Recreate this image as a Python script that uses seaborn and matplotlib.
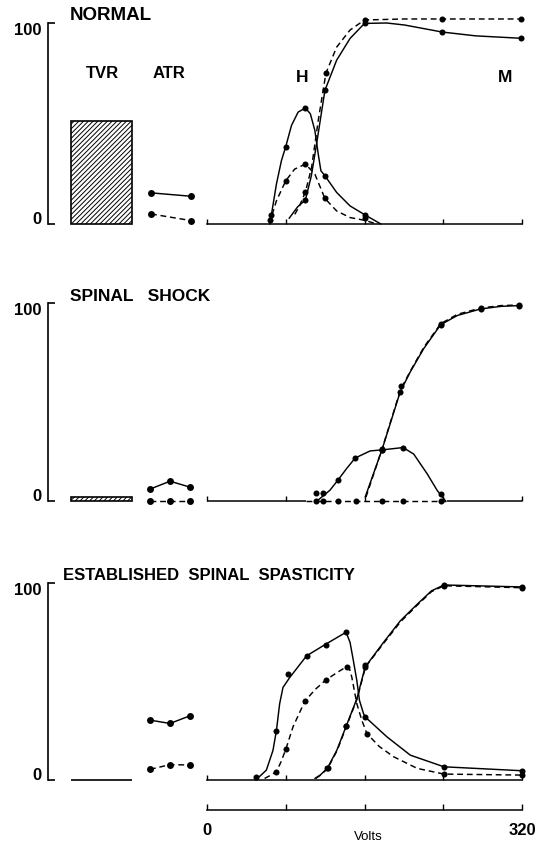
import matplotlib
matplotlib.use("Agg")
import matplotlib.pyplot as plt
import seaborn as sns

# ------------------------------------------------------------------ data
panel_titles = ["NORMAL", "SPINAL   SHOCK", "ESTABLISHED  SPINAL  SPASTICITY"]
volts_ticks = [0, 80, 160, 240, 320]
volts_labels = ["0", "", "", "", "320"]
pct_ticks = [0, 100]
pct_labels = ["0", "100"]

tvr_values = [51, 2, 0]
atr_solid = [[15.5, 13.8], [6, 10, 7], [30.4, 28.7, 32.6]]
atr_dashed = [[5, 1.7], [0, 0, 0], [5.4, 7.8, 7.6]]

# --- NORMAL
n_h_solid_v = [63.7, 65.4, 70.5, 75.6, 80, 85.8, 92.6, 100, 105, 109.6, 113, 115.7, 119.8, 131.7, 145.3, 160.6, 176.6]
n_h_solid_y = [0, 4.5, 19.8, 31.5, 38.5, 49, 55.7, 57.7, 54.8, 46.5, 34.8, 26.5, 24, 15.7, 9, 4.5, 0]
n_h_solid_dot_v = [65.4, 80, 100, 119.8, 160.6]
n_h_solid_dot_y = [4.5, 38.5, 57.7, 24, 4.5]
n_h_dash_v = [63.7, 64.4, 70.5, 80, 89, 100, 109.6, 119.8, 131.7, 145.3, 160.6, 172.5]
n_h_dash_y = [0, 1.8, 11.5, 21.5, 27.3, 29.8, 24.8, 12.7, 6.5, 3.2, 1.8, 0]
n_h_dash_dot_v = [64.4, 80, 100, 119.8, 160.6]
n_h_dash_dot_y = [1.8, 21.5, 29.8, 12.7, 2.8]
n_m_solid_v = [83.4, 92, 100, 106, 111.3, 119.8, 131.7, 145.3, 160, 182.6, 200.7, 239, 273, 319]
n_m_solid_y = [2.8, 8.5, 12, 24, 39.8, 66.5, 81.5, 92.3, 99.8, 100, 99, 95.5, 93.6, 92.4]
n_m_solid_dot_v = [100, 119.8, 160, 239, 319]
n_m_solid_dot_y = [12, 66.5, 99.8, 95.5, 92.4]
n_m_dash_v = [89.2, 94, 100, 106.2, 113, 120.8, 131.7, 145.3, 160, 200, 239, 319]
n_m_dash_y = [4.8, 9, 16, 28, 51.5, 75, 88, 96.5, 101.5, 102, 102, 102]
n_m_dash_dot_v = [100, 120.8, 160, 239, 319]
n_m_dash_dot_y = [16, 75, 101.5, 102, 102]

# --- SPINAL SHOCK
s_h_solid_v = [113, 125, 133.4, 142, 150.5, 165.8, 177.7, 199.2, 210, 223.7, 233.9, 242.4]
s_h_solid_y = [0.5, 5.5, 10.8, 16.5, 21.7, 25.3, 25.8, 27, 23.7, 13.7, 5.3, 0]
s_h_solid_dot_v = [110.6, 117.4, 133.4, 150.5, 177.7, 199.2, 238]
s_h_solid_dot_y = [4, 4, 10.8, 21.7, 25.8, 27, 3.7]
s_h_dash_v = [101, 243.3]
s_h_dash_y = [0, 0]
s_h_dash_dot_v = [110.6, 117.4, 133.4, 151.6, 177.7, 199.2, 238]
s_h_dash_dot_y = [0, 0, 0, 0, 0, 0, 0]
s_m_solid_v = [160.7, 177.7, 196.4, 206.6, 220.2, 237.3, 254.3, 278.1, 298.6, 317.3]
s_m_solid_y = [2, 25.8, 55.3, 65.3, 77, 89, 93.7, 97, 98.3, 98.7]
s_m_solid_dot_v = [177.7, 196.4, 237.3, 278.1, 317.3]
s_m_solid_dot_y = [25.8, 55.3, 89, 97, 98.7]
s_m_dash_v = [161.5, 178, 196.8, 207, 220.5, 237.5, 254.5, 278.3, 298.8, 317.3]
s_m_dash_y = [2, 26.5, 56.5, 66, 77.8, 89.6, 94.3, 97.5, 98.7, 99]
s_m_dash_dot_v = [178, 196.8, 237.5, 278.3, 317.3]
s_m_dash_dot_y = [26.5, 58, 89.6, 97.5, 99]

# --- ESTABLISHED SPINAL SPASTICITY
e_h_solid_v = [49.5, 60.3, 67, 70.5, 73.8, 77.2, 84, 101.1, 120.8, 141.3, 145.3, 148.7, 152.2, 154.9, 159, 160.7, 182.8, 206.6, 240.7, 320]
e_h_solid_y = [0, 5, 15, 25, 38.7, 47, 52, 63, 69, 75, 69.9, 60.6, 50.5, 40.4, 33.7, 32, 21.9, 12.6, 6.7, 4.7]
e_h_solid_dot_v = [50, 70.5, 82.4, 101.1, 120.8, 141.3, 160.7, 240.7, 320]
e_h_solid_dot_y = [1.5, 25, 54, 63, 68.7, 74.9, 32, 6.7, 4.7]
e_h_dash_v = [58.5, 65, 70.5, 75, 80, 87.4, 99.4, 110, 120.8, 132, 142, 145, 147.1, 152.2, 157.3, 162.4, 175, 189.6, 213.5, 240.7, 320]
e_h_dash_y = [0.8, 2.5, 4.2, 9, 15.5, 27, 40, 46, 50.8, 54.5, 57.6, 56, 52.2, 38.7, 30.3, 23.6, 17, 11.8, 5.9, 3, 2.5]
e_h_dash_dot_v = [70.5, 80, 99.4, 120.8, 142, 162.4, 240.7, 320]
e_h_dash_dot_y = [4.2, 15.5, 40, 50.8, 57.6, 23.6, 3, 2.5]
e_m_solid_v = [109.6, 115, 122.2, 131.8, 141.3, 152.2, 160.7, 179.4, 196.4, 213.5, 228, 240.7, 320]
e_m_solid_y = [0.8, 2.5, 5.9, 15, 27.2, 41.2, 57.4, 69.9, 80.8, 89.2, 96, 99, 98]
e_m_solid_dot_v = [122.2, 141.3, 160.7, 240.7, 320]
e_m_solid_dot_y = [5.9, 27.2, 57.4, 99, 98]
e_m_dash_v = [110.5, 115.5, 122.6, 132.2, 141.6, 152.5, 161, 179.6, 196.6, 213.7, 228, 240.7, 320]
e_m_dash_y = [0.8, 2.5, 5.9, 15, 27.2, 41.2, 57.4, 69.5, 80.3, 88.8, 95.6, 98.6, 97.6]
e_m_dash_dot_v = [122.6, 141.6, 161, 240.7, 320]
e_m_dash_dot_y = [5.9, 27.2, 58.5, 98.6, 97.6]

# ------------------------------------------------------------------ layout (pixels)
W, H = 553, 846
panel_y0 = [224, 501, 780]
panel_y100 = [23, 303, 583]
left_x0, left_x1 = 48, 200
right_x0, right_x1 = 207, 522
tvr_center, tvr_width = 101, 61
atr_pos3 = [150, 170, 190]
atr_pos2 = [151, 191]

sns.set_style("white")
plt.rcParams["font.family"] = ["Liberation Sans", "DejaVu Sans"]
plt.rcParams["hatch.linewidth"] = 0.7
for k in ["text.color", "axes.labelcolor", "xtick.color", "ytick.color", "axes.edgecolor"]:
    plt.rcParams[k] = "black"

fig = plt.figure(figsize=(W / 100, H / 100), dpi=100)
fig.patch.set_facecolor("white")


def px_axes(x0, x1, ytop, ybot):
    return fig.add_axes([x0 / W, 1 - ybot / H, (x1 - x0) / W, (ybot - ytop) / H])


def ftext(x, y, s, **kw):
    fig.text(x / W, 1 - y / H, s, **kw)


LW = 1.05
DASH = (0, (4, 2.6))
MS = 19

curves = [
    [
        (n_h_solid_v, n_h_solid_y, n_h_solid_dot_v, n_h_solid_dot_y, "-"),
        (n_h_dash_v, n_h_dash_y, n_h_dash_dot_v, n_h_dash_dot_y, DASH),
        (n_m_solid_v, n_m_solid_y, n_m_solid_dot_v, n_m_solid_dot_y, "-"),
        (n_m_dash_v, n_m_dash_y, n_m_dash_dot_v, n_m_dash_dot_y, DASH),
    ],
    [
        (s_h_solid_v, s_h_solid_y, s_h_solid_dot_v, s_h_solid_dot_y, "-"),
        (s_h_dash_v, s_h_dash_y, s_h_dash_dot_v, s_h_dash_dot_y, DASH),
        (s_m_solid_v, s_m_solid_y, s_m_solid_dot_v, s_m_solid_dot_y, "-"),
        (s_m_dash_v, s_m_dash_y, s_m_dash_dot_v, s_m_dash_dot_y, DASH),
    ],
    [
        (e_h_solid_v, e_h_solid_y, e_h_solid_dot_v, e_h_solid_dot_y, "-"),
        (e_h_dash_v, e_h_dash_y, e_h_dash_dot_v, e_h_dash_dot_y, DASH),
        (e_m_solid_v, e_m_solid_y, e_m_solid_dot_v, e_m_solid_dot_y, "-"),
        (e_m_dash_v, e_m_dash_y, e_m_dash_dot_v, e_m_dash_dot_y, DASH),
    ],
]

for i in range(3):
    y0, y100 = panel_y0[i], panel_y100[i]

    # ---- left part: TVR bar + ATR
    axl = px_axes(left_x0, left_x1, y100, y0)
    axl.set_xlim(left_x0, left_x1)
    axl.set_ylim(0, 100)
    for s in ["top", "right", "bottom"]:
        axl.spines[s].set_visible(False)
    axl.spines["left"].set_linewidth(1.2)
    axl.set_xticks([])
    axl.set_yticks(pct_ticks)
    axl.set_yticklabels(pct_labels, fontsize=12, fontweight="bold")
    axl.tick_params(axis="y", left=True, direction="in", length=5, width=1.2, pad=5)
    labs = axl.get_yticklabels()
    labs[0].set_va("baseline")
    labs[1].set_va("top")
    axl.patch.set_alpha(0)

    axl.bar(tvr_center, tvr_values[i], width=tvr_width, color="white",
            edgecolor="black", hatch="///////", linewidth=1.2, clip_on=False)

    pos = atr_pos2 if len(atr_solid[i]) == 2 else atr_pos3
    sns.lineplot(x=pos, y=atr_solid[i], ax=axl, color="black", lw=LW,
                 marker="o", markersize=5, markeredgewidth=0, clip_on=False,
                 estimator=None, sort=False)
    sns.lineplot(x=pos, y=atr_dashed[i], ax=axl, color="black", lw=LW,
                 linestyle=DASH, marker="o", markersize=5, markeredgewidth=0,
                 clip_on=False, estimator=None, sort=False)
    axl.set_xlabel("")
    axl.set_ylabel("")

    # ---- right part: volts curves
    axr = px_axes(right_x0, right_x1, y100, y0)
    axr.set_xlim(0, 320)
    axr.set_ylim(0, 100)
    axr.patch.set_alpha(0)
    for s in ["top", "right", "left"]:
        axr.spines[s].set_visible(False)
    axr.spines["bottom"].set_linewidth(1.1)
    axr.set_yticks([])
    axr.set_xticks(volts_ticks)
    axr.set_xticklabels([])
    axr.tick_params(axis="x", bottom=True, direction="in", length=3.5, width=1.0)
    if i == 1:
        axr.spines["bottom"].set_visible(False)
        axr.hlines(0, 0, 101, color="black", lw=1.1, clip_on=False)
        axr.hlines(0, 244, 320, color="black", lw=1.1, clip_on=False)

    for (lv, ly, dv, dy, ls) in curves[i]:
        sns.lineplot(x=lv, y=ly, ax=axr, color="black", lw=LW, linestyle=ls,
                     estimator=None, sort=False, clip_on=False)
        sns.scatterplot(x=dv, y=dy, ax=axr, color="black", s=MS, linewidth=0,
                        clip_on=False, zorder=5)
    axr.set_xlabel("")
    axr.set_ylabel("")

# ---- separate volts scale under the last panel
axv = px_axes(right_x0, right_x1, 792, 810)
axv.set_xlim(0, 320)
axv.set_ylim(0, 1)
axv.patch.set_alpha(0)
for s in ["top", "right", "left"]:
    axv.spines[s].set_visible(False)
axv.spines["bottom"].set_linewidth(1.1)
axv.set_yticks([])
axv.set_xticks(volts_ticks)
axv.set_xticklabels(volts_labels, fontsize=12, fontweight="bold")
axv.tick_params(axis="x", bottom=True, direction="in", length=4, width=1.0, pad=9)

# ---- texts
title_pos = [(70, 15), (70, 296), (63, 575)]
title_size = [13.5, 12.5, 12]
for (tx, ty), t, fs in zip(title_pos, panel_titles, title_size):
    ftext(tx, ty, t, fontsize=fs, fontweight="bold", ha="left", va="center")
ftext(102.5, 73, "TVR", fontsize=12, fontweight="bold", ha="center", va="center")
ftext(168.5, 73, "ATR", fontsize=12, fontweight="bold", ha="center", va="center")
ftext(302, 77, "H", fontsize=12.5, fontweight="bold", ha="center", va="center")
ftext(505, 77, "M", fontsize=12.5, fontweight="bold", ha="center", va="center")
ftext(368, 831, "Volts", fontsize=9.5, ha="center", va="top")

fig.savefig("out.png", dpi=100, facecolor="white")
